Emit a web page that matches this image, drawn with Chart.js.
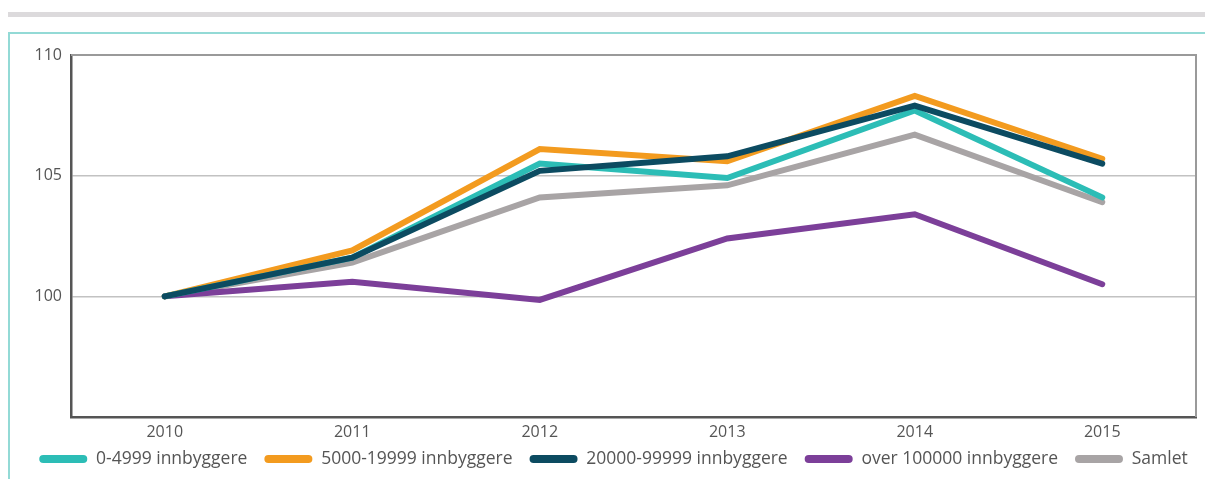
<!DOCTYPE html>
<html>
<head>
<meta charset="utf-8">
<script src="https://cdn.jsdelivr.net/npm/chart.js@4.4.1/dist/chart.umd.min.js"></script>
<style>
  html, body { margin: 0; padding: 0; background: #fff; overflow: hidden; }
  body { width: 1205px; height: 479px; position: relative; }
  .topbar { position: absolute; left: 8px; right: 0; top: 12px; height: 5px; background: #dcdadc; }
  .panel { position: absolute; left: 8px; top: 32px; right: -10px; bottom: -10px;
           border-top: 2px solid #93dad6; border-left: 2px solid #93dad6; }
  #wrap { position: absolute; left: 10px; top: 34px; width: 1195px; height: 454px; }
</style>
</head>
<body>
<div class="topbar"></div>
<div class="panel"></div>
<div id="wrap"><canvas id="lineChart"></canvas></div>
<script>
// index values per municipality size group, 2010 = 100
const years = ["2010", "2011", "2012", "2013", "2014", "2015"];
const groupNames = ["0-4999 innbyggere", "5000-19999 innbyggere", "20000-99999 innbyggere", "over 100000 innbyggere", "Samlet"];
const small = [100, 101.6, 105.5, 104.9, 107.7, 104.1];
const medium = [100, 101.9, 106.1, 105.6, 108.3, 105.7];
const large = [100, 101.6, 105.2, 105.8, 107.9, 105.5];
const biggest = [100, 100.6, 99.85, 102.4, 103.4, 100.5];
const total = [100, 101.4, 104.1, 104.6, 106.7, 103.9];
const yTicks = [95, 100, 105, 110];

const colors = ["#2cbdb6", "#f39b1f", "#0c4b61", "#7c3f99", "#a8a4a5"];
const series = [small, medium, large, biggest, total];
// draw order: dark blue on top, grey at the bottom
const drawOrder = [1, 2, 0, 3, 4];

const datasets = series.map(function (vals, i) {
  return {
    label: groupNames[i],
    data: vals,
    borderColor: colors[i],
    backgroundColor: colors[i],
    borderWidth: 6,
    pointRadius: 0,
    tension: 0,
    borderCapStyle: "round",
    order: drawOrder[i],
  };
});

//top and right edge of the plot box
const frame = {
  id: "frame",
  beforeDatasetsDraw(chart) {
    const a = chart.chartArea;
    const ctx = chart.ctx;
    ctx.save();
    ctx.strokeStyle = "#9a9a9a";
    ctx.lineWidth = 2;
    ctx.beginPath();
    ctx.moveTo(a.left, a.top);
    ctx.lineTo(a.right, a.top);
    ctx.lineTo(a.right, a.bottom);
    ctx.stroke();
    ctx.restore();
  },
};

//pull the legend row up close to the year labels and centre it under the box
const legendNudge = {
  id: "legendNudge",
  afterLayout(chart) {
    const lg = chart.legend;
    lg.top -= 9.75;
    lg.bottom -= 9.75;
    lg.left += 10.5;
    lg.right += 10.5;
  },
};

const chart = new Chart(document.getElementById("lineChart"), {
  type: "line",
  data: { labels: years, datasets: datasets },
  plugins: [frame, legendNudge],
  options: {
    responsive: true,
    maintainAspectRatio: false,
    animation: false,
    layout: { padding: { top: 21, right: 9, left: 0, bottom: 0.5 } },
    plugins: {
      tooltip: { enabled: false },
      legend: {
        position: "bottom",
        labels: {
          boxWidth: 48,
          boxHeight: 8,
          padding: 17,
          color: "#555",
          font: { family: "Open Sans", size: 17.5 },
          generateLabels: function (c) {
            return c.data.datasets.map(function (ds, i) {
              return {
                text: ds.label,
                fillStyle: ds.borderColor,
                strokeStyle: ds.borderColor,
                lineWidth: 0,
                borderRadius: 4,
                fontColor: "#555",
                datasetIndex: i,
              };
            });
          },
        },
      },
    },
    scales: {
      x: {
        offset: true,
        grid: { display: false, drawTicks: false },
        border: { color: "#555", width: 2.5 },
        ticks: { color: "#555", padding: 6, font: { family: "Open Sans", size: 16 } },
        afterFit: function (s) { s.height = 26; },
      },
      y: {
        min: yTicks[0],
        max: yTicks[yTicks.length - 1],
        afterBuildTicks: function (s) { s.ticks = yTicks.map(v => ({ value: v })); },
        grid: {
          drawTicks: false,
          lineWidth: 1.5,
          color: function (c) {
            return c.tick && (c.tick.value === 100 || c.tick.value === 105) ? "#c2c2c2" : "rgba(0,0,0,0)";
          },
        },
        border: { color: "#555", width: 2.5 },
        ticks: {
          color: "#555",
          padding: 9,
          font: { family: "Open Sans", size: 16 },
          callback: function (v) { return v === yTicks[0] ? "" : v; },
        },
        afterFit: function (s) { s.width = 61; },
      },
    },
  },
});
</script>
</body>
</html>
